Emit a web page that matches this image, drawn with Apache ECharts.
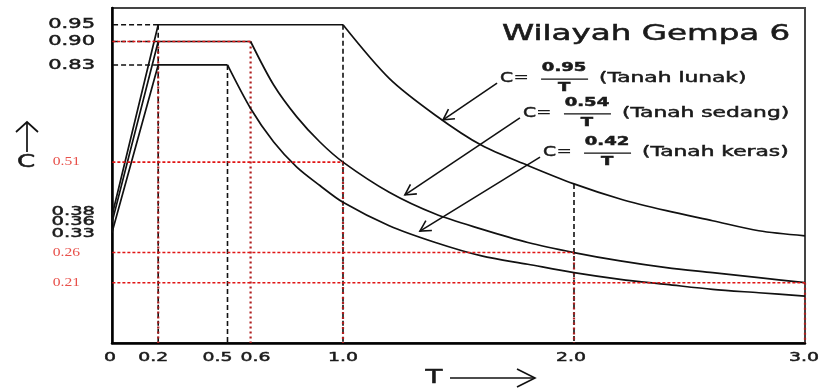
<!DOCTYPE html>
<html>
<head>
<meta charset="utf-8">
<script src="https://cdn.jsdelivr.net/npm/echarts@6/dist/echarts.min.js"></script>
<style>
  html, body { margin: 0; padding: 0; background: #fff; }
  #main { width: 822px; height: 391px; }
</style>
</head>
<body>
<div id="main"></div>
<script>
// spectrum data
var flatT = [[0, 0.2, 1.0], [0, 0.2, 0.6], [0, 0.2, 0.5]];
var flatC = [[0.38, 0.95, 0.95], [0.36, 0.90, 0.90], [0.33, 0.83, 0.83]];

var lunakT = [1.0, 1.2, 1.4, 1.6, 1.8, 2.0, 2.2, 2.4, 2.6, 2.8, 3.0];
var lunakC = [0.95, 0.79, 0.68, 0.59, 0.53, 0.475, 0.43, 0.395, 0.365, 0.335, 0.32];
var sedangT = [0.6, 0.7, 0.8, 0.9, 1.0, 1.2, 1.4, 1.6, 1.8, 2.0, 2.2, 2.4, 2.6, 2.8, 3.0];
var sedangC = [0.90, 0.77, 0.675, 0.60, 0.54, 0.45, 0.385, 0.34, 0.30, 0.27, 0.245, 0.225, 0.21, 0.195, 0.18];
var kerasT = [0.5, 0.6, 0.7, 0.8, 0.9, 1.0, 1.2, 1.4, 1.6, 1.8, 2.0, 2.2, 2.4, 2.6, 2.8, 3.0];
var kerasC = [0.83, 0.70, 0.60, 0.525, 0.47, 0.42, 0.35, 0.30, 0.26, 0.235, 0.21, 0.19, 0.175, 0.16, 0.15, 0.14];

// axis labels
var yBlackVals = [0.95, 0.90, 0.83, 0.38, 0.36, 0.33];
var yBlackText = ['0.95', '0.90', '0.83', '0.38', '0.36', '0.33'];
var yRedVals = [0.54, 0.27, 0.18];
var yRedText = ['0.51', '0.26', '0.21'];
var xTickVals = [0, 0.2, 0.5, 0.6, 1.0, 2.0, 3.0];
var xTickText = ['0', '0.2', '0.5', '0.6', '1.0', '2.0', '3.0'];

// guide segments [T1, C1, T2, C2]
var blackGuides = [
    [-0.03, 0.95, 0.2, 0.95], [-0.03, 0.83, 0.2, 0.83], [-0.03, 0.90, 0.2, 0.90],
    [-0.03, 0.38, 0, 0.38], [-0.03, 0.36, 0, 0.36], [-0.03, 0.33, 0, 0.33],
    [0.2, 0.95, 0.2, 0], [0.5, 0.83, 0.5, 0], [1.0, 0.95, 1.0, 0], [2.0, 0.475, 2.0, 0]
];
var redGuides = [
    [-0.02, 0.90, 0.6, 0.90], [-0.02, 0.54, 1.0, 0.54], [-0.02, 0.27, 2.0, 0.27], [-0.02, 0.18, 3.0, 0.18]
];
var brownGuides = [
    [0.2, 0.90, 0.2, 0], [0.6, 0.90, 0.6, 0], [1.0, 0.54, 1.0, 0], [2.0, 0.27, 2.0, 0], [3.0, 0.18, 3.0, 0]
];

// formula annotations
var arNum = ['0.95', '0.54', '0.42'];
var soilName = ['(Tanah lunak)', '(Tanah sedang)', '(Tanah keras)'];
var arrowTail = [[1.667, 0.776], [1.766, 0.672], [1.853, 0.555]];
var arrowTip = [[1.433, 0.666], [1.268, 0.442], [1.333, 0.334]];

function pairs(xs, ys) {
    return xs.map(function (x, i) { return [x, ys[i]]; });
}

function guideSeries(list, color, width, dash, z) {
    return list.map(function (g) {
        return {
            type: 'line', data: [[g[0], g[1]], [g[2], g[3]]],
            symbol: 'none', silent: true, clip: false, z: z,
            lineStyle: { color: color, width: width, type: dash }
        };
    });
}

function curve(data, smooth) {
    return {
        type: 'line', data: data, symbol: 'none', smooth: smooth, silent: true, z: 4,
        lineStyle: { color: '#111', width: 1.7 }
    };
}

var series = []
    .concat(guideSeries(blackGuides, '#111', 1.6, [5, 3], 2))
    .concat(guideSeries(brownGuides, '#b01e1e', 2.2, [2, 3], 3))
    .concat([
        curve(pairs(flatT[0], flatC[0]), false),
        curve(pairs(flatT[1], flatC[1]), false),
        curve(pairs(flatT[2], flatC[2]), false),
        curve(pairs(lunakT, lunakC), 0.3),
        curve(pairs(sedangT, sedangC), 0.3),
        curve(pairs(kerasT, kerasC), 0.3)
    ])
    .concat(guideSeries(redGuides, '#e01515', 1.6, [3, 2], 5));

var chart = echarts.init(document.getElementById('main'));
chart.setOption({
    animation: false,
    backgroundColor: '#fff',
    grid: { left: 112, right: 17, top: 8, bottom: 48, show: true, borderColor: '#444', borderWidth: 2 },
    xAxis: {
        type: 'value', min: 0, max: 3,
        axisLine: { lineStyle: { color: '#000', width: 2.5 } },
        axisTick: { show: false }, axisLabel: { show: false }, splitLine: { show: false }
    },
    yAxis: {
        type: 'value', min: 0, max: 1,
        axisLine: { show: true, lineStyle: { color: '#000', width: 2.5 } },
        axisTick: { show: false }, axisLabel: { show: false }, splitLine: { show: false }
    },
    series: series
});

function px(t, c) {
    return chart.convertToPixel({ xAxisIndex: 0, yAxisIndex: 0 }, [t, c]);
}

function txt(x, y, s, o) {
    var color = o.color || '#1a1a1a';
    return {
        type: 'text', x: x, y: y, scaleX: o.sx || 1.45, silent: true, z: 10,
        style: {
            text: s, x: 0, y: 0,
            fill: color,
            stroke: o.thin ? null : color,
            lineWidth: o.thin ? 0 : 0.5,
            fontSize: o.size || 14,
            fontFamily: o.family || 'DejaVu Sans',
            fontWeight: o.weight || 'normal',
            textAlign: o.align || 'left',
            textVerticalAlign: 'middle'
        }
    };
}

function seg(points, w) {
    return {
        type: 'polyline', silent: true, z: 10,
        shape: { points: points },
        style: { stroke: '#111', lineWidth: w || 1.6, fill: null }
    };
}

function arrow(a, b) {
    var ang = Math.atan2(b[1] - a[1], b[0] - a[0]);
    var len = 12, spread = 0.5;
    var p1 = [b[0] - len * Math.cos(ang - spread), b[1] - len * Math.sin(ang - spread)];
    var p2 = [b[0] - len * Math.cos(ang + spread), b[1] - len * Math.sin(ang + spread)];
    return [seg([a, b]), seg([p1, b, p2])];
}

var g = [];

// y labels (small nudges where the labels crowd)
var yShift = [0, 0, 0, -4, -1, 1];
var ySize = [14, 14, 14, 13, 13, 13];
yBlackVals.forEach(function (v, i) {
    var p = px(0, v);
    g.push(txt(95, p[1] + yShift[i], yBlackText[i], { align: 'right', size: ySize[i], sx: 1.5 }));
});
yRedVals.forEach(function (v, i) {
    var p = px(0, v);
    g.push(txt(80, p[1], yRedText[i], { align: 'right', size: 12, sx: 1.3, family: 'Liberation Serif', color: '#e8504a', thin: true }));
});

// x labels
var xShift = [-2, -5, -10, 5, 0, -3, -1];
xTickVals.forEach(function (v, i) {
    var p = px(v, 0);
    g.push(txt(p[0] + xShift[i], p[1] + 15, xTickText[i], { align: 'center', size: 13, sx: 1.45 }));
});

// axis names with arrows
g.push(txt(26, 162, 'C', { align: 'center', size: 18, sx: 1.45 }));
g.push(seg([[27, 152], [27, 122]], 1.7));
g.push(seg([[16, 132], [27, 122], [38, 132]], 1.7));
g.push(txt(434, 378, 'T', { align: 'center', size: 19, sx: 1.45 }));
g.push(seg([[450, 378], [535, 378]], 1.6));
g.push(seg([[517, 369], [535, 378], [517, 387]], 1.6));

// title
g.push(txt(502, 35, 'Wilayah Gempa 6', { size: 21, sx: 1.55 }));

// formulas and pointer arrows
arrowTail.forEach(function (tail, i) {
    var a = px(tail[0], tail[1]);
    var b = px(arrowTip[i][0], arrowTip[i][1]);
    g = g.concat(arrow(a, b));
    var x0 = a[0] + 3, y0 = a[1] - 5;
    g.push(txt(x0, y0, 'C', { size: 14.5, sx: 1.3 }));
    g.push(txt(x0 + 21, y0, '=', { align: 'center', size: 14.5, sx: 1.3, thin: true }));
    g.push(txt(x0 + 64, y0 - 10, arNum[i], { align: 'center', size: 12, weight: 'bold', sx: 1.5 }));
    g.push(seg([[x0 + 41, y0 + 1], [x0 + 88, y0 + 1]], 1.3));
    g.push(txt(x0 + 64, y0 + 10, 'T', { align: 'center', size: 12, weight: 'bold', sx: 1.5 }));
    g.push(txt(x0 + 99, y0, soilName[i], { size: 14.5, sx: 1.5 }));
});

chart.setOption({ graphic: { elements: g } });
</script>
</body>
</html>
